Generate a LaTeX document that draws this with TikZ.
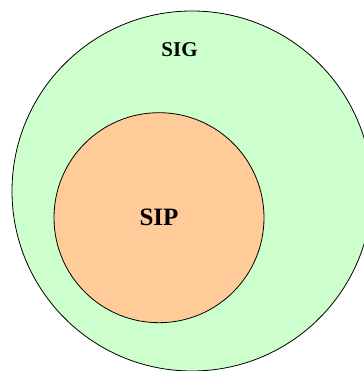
\documentclass[tikz,border=0pt]{standalone}
\usepackage{fontspec}
\setmainfont{Liberation Serif}
\definecolor{siggreen}{HTML}{CCFFCC}
\definecolor{siporange}{HTML}{FFCC99}
\begin{document}
\begin{tikzpicture}[x=1pt,y=1pt,
  setcircle/.style={circle,draw=black,line width=0.8pt,inner sep=0pt},
  setlabel/.style={inner sep=0pt}]
\useasboundingbox (0,0) rectangle (363,371);
\node[setcircle,fill=siggreen,minimum size=360pt] (sig) at (192,180) {};
\node[setcircle,fill=siporange,minimum size=210pt] (sip) at (159,153.3) {};
\node[setlabel,font=\fontsize{21}{21}\selectfont\bfseries] (siglabel) at (179.5,321) {SIG};
\node[setlabel,font=\fontsize{25}{25}\selectfont\bfseries] (siplabel) at (159,153.5) {SIP};
\end{tikzpicture}
\end{document}
